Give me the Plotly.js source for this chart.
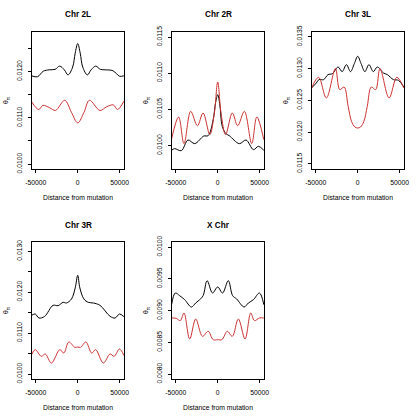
<!DOCTYPE html>
<html>
<head>
<meta charset="utf-8">
<script src="https://cdn.plot.ly/plotly-3.0.1.min.js"></script>
<style>
  html, body { margin: 0; padding: 0; background: #fff; }
  #plot { width: 420px; height: 420px; }
</style>
</head>
<body>
<div id="plot"></div>
<script>
// Panel titles
let chrNames = ["Chr 2L", "Chr 2R", "Chr 3L", "Chr 3R", "X Chr"];

// Chr 2L
let pos2L_black = [-55000, -48000, -41000, -34000, -27000, -21500, -16000, -11500, -6000, -3000, 0, 3000, 6000, 11500, 16000, 21500, 27000, 33000, 42000, 50000, 55000];
let theta2L_black = [0.01191, 0.01189, 0.01201, 0.01204, 0.01205, 0.01212, 0.01204, 0.01193, 0.01210, 0.01240, 0.01261, 0.01240, 0.01210, 0.01193, 0.01204, 0.01212, 0.01205, 0.01204, 0.01202, 0.01190, 0.01191];
let pos2L_red = [-55000, -46500, -41500, -33500, -26500, -15500, -7500, 0, 7500, 14000, 26500, 34500, 42500, 47500, 55000];
let theta2L_red = [0.01135, 0.01118, 0.01127, 0.01122, 0.01116, 0.01138, 0.01112, 0.01089, 0.01112, 0.01138, 0.01116, 0.01124, 0.01128, 0.01118, 0.01136];

// Chr 2R
let pos2R_black = [-55000, -51400, -43400, -35400, -27400, -16600, -11400, -5400, -2600, 0, 2600, 5400, 9800, 13800, 25800, 33800, 42600, 48600, 55000];
let theta2R_black = [0.009936, 0.009959, 0.009931, 0.010078, 0.010028, 0.010133, 0.010138, 0.010359, 0.010589, 0.010704, 0.010560, 0.010267, 0.010166, 0.010138, 0.010028, 0.010078, 0.009945, 0.009991, 0.009936];
let pos2R_red = [-55000, -46600, -40200, -32200, -24200, -17400, -9400, -4000, 0, 4000, 9400, 17400, 23800, 31800, 40600, 46600, 55000];
let theta2R_red = [0.010092, 0.010396, 0.010028, 0.010474, 0.010276, 0.010451, 0.010152, 0.010450, 0.010879, 0.010450, 0.010152, 0.010451, 0.010276, 0.010474, 0.010028, 0.010396, 0.010083];

// Chr 3L
let pos3L_black = [-55000, -49400, -46200, -40600, -35400, -30200, -23400, -18600, -13400, -8600, -4000, 0, 4000, 8600, 13400, 18600, 23400, 30600, 35400, 42600, 48600, 55000];
let theta3L_black = [0.012696, 0.012774, 0.012827, 0.012827, 0.012906, 0.012921, 0.013026, 0.012953, 0.013063, 0.012953, 0.013080, 0.013194, 0.013080, 0.012953, 0.013063, 0.012953, 0.013026, 0.012932, 0.012906, 0.012827, 0.012816, 0.012711];
let pos3L_red = [-55000, -46600, -37400, -26600, -21400, -16200, -11400, -7400, -3400, 0, 3400, 7400, 11400, 16200, 21400, 26600, 37400, 46600, 55000];
let theta3L_red = [0.012696, 0.012864, 0.012538, 0.013000, 0.012669, 0.012711, 0.012407, 0.012171, 0.012081, 0.012066, 0.012081, 0.012171, 0.012407, 0.012711, 0.012669, 0.013000, 0.012538, 0.012864, 0.012696];

// Chr 3R
let pos3R_black = [-55000, -50600, -46200, -39400, -29400, -23400, -17400, -13400, -7400, -3000, 0, 2600, 7400, 12600, 18600, 26600, 38600, 44600, 49800, 55000];
let theta3R_black = [0.011434, 0.011467, 0.011369, 0.011410, 0.011679, 0.011671, 0.011752, 0.011736, 0.011834, 0.012103, 0.012412, 0.012103, 0.011834, 0.011752, 0.011736, 0.011679, 0.011410, 0.011369, 0.011467, 0.011402];
let pos3R_red = [-55000, -50600, -43400, -38600, -31400, -21400, -16600, -10600, -3400, 0, 3400, 9800, 16600, 21400, 30600, 38600, 43400, 49800, 55000];
let theta3R_red = [0.010473, 0.010595, 0.010432, 0.010489, 0.010269, 0.010595, 0.010513, 0.010782, 0.010652, 0.010660, 0.010652, 0.010782, 0.010513, 0.010595, 0.010269, 0.010489, 0.010432, 0.010611, 0.010456];

// X Chr
let posX_black = [-55000, -50600, -45400, -39400, -31400, -26200, -21400, -17400, -12600, -6200, 0, 5800, 12600, 17800, 22600, 31400, 36600, 42600, 49800, 55000];
let thetaX_black = [0.009094, 0.009278, 0.009236, 0.009173, 0.009058, 0.009121, 0.009173, 0.009236, 0.009472, 0.009278, 0.009373, 0.009278, 0.009472, 0.009236, 0.009184, 0.009058, 0.009121, 0.009173, 0.009278, 0.009094];
let posX_red = [-55000, -49400, -44600, -40200, -33400, -26200, -18200, -11400, -5400, 0, 5000, 11400, 17400, 24600, 32600, 39400, 43800, 49800, 55000];
let thetaX_red = [0.008885, 0.008879, 0.008843, 0.008963, 0.008554, 0.008869, 0.008596, 0.008675, 0.008543, 0.008543, 0.008543, 0.008675, 0.008596, 0.008869, 0.008554, 0.008963, 0.008843, 0.008885, 0.008885];

// labelled y ticks per panel
let yTicks = [
  [0.0100, 0.0110, 0.0120],
  [0.0100, 0.0105, 0.0110, 0.0115],
  [0.0115, 0.0120, 0.0125, 0.0130, 0.0135],
  [0.0100, 0.0110, 0.0120, 0.0130],
  [0.0080, 0.0085, 0.0090, 0.0095, 0.0100]
];
// unlabelled y ticks (R dropped their labels)
let yMinor = [
  [0.0105, 0.0115, 0.0125],
  [],
  [],
  [0.0105, 0.0115, 0.0125],
  []
];
let yRanges = [
  [0.009892, 0.012859],
  [0.009678, 0.011569],
  [0.011420, 0.013577],
  [0.009878, 0.013227],
  [0.007924, 0.010081]
];
let xTicks = [-50000, 0, 50000];
let xLabels = ["-50000", "0", "50000"];

let series = [
  [pos2L_black, theta2L_black, pos2L_red, theta2L_red],
  [pos2R_black, theta2R_black, pos2R_red, theta2R_red],
  [pos3L_black, theta3L_black, pos3L_red, theta3L_red],
  [pos3R_black, theta3R_black, pos3R_red, theta3R_red],
  [posX_black, thetaX_black, posX_red, thetaX_red]
];

// panel boxes in pixels (left, right, top, bottom)
let W = 420, H = 420;
let cols = [[32, 124], [172, 264], [312, 404]];
let rows = [[32, 169], [242, 379]];

let font = "Liberation Sans, Arial, Helvetica, sans-serif";
let data = [];
let annotations = [];
let layout = {
  width: W, height: H,
  margin: { l: 0, r: 0, t: 0, b: 0 },
  paper_bgcolor: "white",
  plot_bgcolor: "white",
  showlegend: false,
  font: { family: font, size: 7, color: "black" }
};

chrNames.forEach(function(name, i) {
  let c = cols[i % 3], r = rows[Math.floor(i / 3)];
  let n = i === 0 ? "" : String(i + 1);
  let s = series[i];

  data.push({
    x: s[0], y: s[1], xaxis: "x" + n, yaxis: "y" + n,
    type: "scatter", mode: "lines",
    line: { color: "black", width: 1, shape: "spline", smoothing: 1 },
    hoverinfo: "skip"
  });
  data.push({
    x: s[2], y: s[3], xaxis: "x" + n, yaxis: "y" + n,
    type: "scatter", mode: "lines",
    line: { color: "#cd3333", width: 1, shape: "spline", smoothing: 1 },
    hoverinfo: "skip"
  });

  layout["xaxis" + n] = {
    domain: [c[0] / W, c[1] / W],
    anchor: "y" + n,
    range: [-54500, 55200],
    tickvals: xTicks, ticktext: xLabels,
    ticks: "outside", ticklen: 3, tickcolor: "black",
    ticklabelstandoff: 4,
    tickfont: { family: font, size: 6.8, color: "black" },
    title: { text: "Distance from mutation", standoff: 10, font: { family: font, size: 6.8, color: "black" } },
    showline: true, mirror: true, linecolor: "black", linewidth: 1,
    showgrid: false, zeroline: false, fixedrange: true
  };
  let yax = {
    domain: [1 - r[1] / H, 1 - r[0] / H],
    anchor: "x" + n,
    range: yRanges[i],
    tickvals: yTicks[i],
    ticktext: yTicks[i].map(function(v) { return v.toFixed(4); }),
    tickangle: -90,
    ticks: "outside", ticklen: 3, tickcolor: "black",
    ticklabelstandoff: 3,
    tickfont: { family: font, size: 6.8, color: "black" },
    title: { text: "θ<sub>π</sub>", standoff: 6, font: { family: font, size: 6.8, color: "black" } },
    showline: true, mirror: true, linecolor: "black", linewidth: 1,
    showgrid: false, zeroline: false, fixedrange: true
  };
  if (yMinor[i].length) {
    yax.minor = { tickvals: yMinor[i], ticks: "outside", ticklen: 3, tickcolor: "black", showgrid: false };
  }
  layout["yaxis" + n] = yax;

  let cx = (c[0] + c[1]) / 2 / W;
  // panel title
  annotations.push({
    text: "<b>" + name + "</b>", xref: "paper", yref: "paper",
    x: cx, y: 1 - (r[0] - 17) / H, xanchor: "center", yanchor: "middle",
    showarrow: false, font: { family: font, size: 8.2, color: "black" }
  });
});

layout.annotations = annotations;

Plotly.newPlot("plot", data, layout, { staticPlot: true });
</script>
</body>
</html>
